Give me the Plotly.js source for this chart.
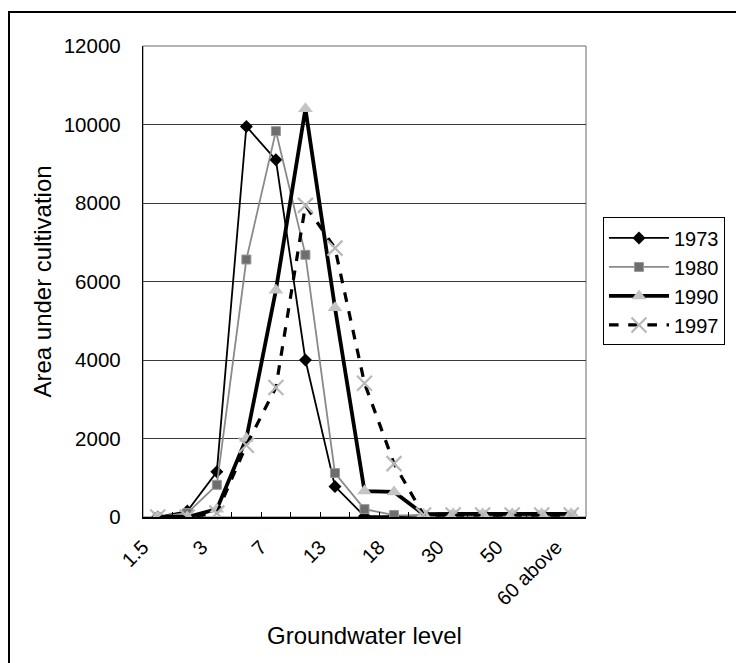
<!DOCTYPE html>
<html>
<head>
<meta charset="utf-8">
<script src="https://cdn.plot.ly/plotly-3.0.1.min.js"></script>
<style>
  html, body { margin: 0; padding: 0; background: #fff; }
  #wrap { position: relative; width: 736px; height: 663px; overflow: hidden; }
  #chart { position: absolute; left: 0; top: 0; width: 736px; height: 663px; }
  #frame { position: absolute; left: 8px; top: 11px; width: 760px; height: 700px;
           border-top: 2px solid #000; border-left: 2px solid #000; pointer-events: none; }
</style>
</head>
<body>
<div id="wrap">
  <div id="chart"></div>
  <div id="frame"></div>
</div>
<script>
// Groundwater level categories (only every other one is labelled in the original)
const categories = ["1.5", "2", "3", "5", "7", "10", "13", "15", "18", "20", "30", "40", "50", "60", "60 above"];
const labelledEvery = 2;

// Area under cultivation by year
const y1973 = [0, 150, 1150, 9950, 9100, 4000, 780, 20, 20, 40, 40, 40, 40, 40, 40];
const y1980 = [0, 100, 820, 6560, 9830, 6680, 1120, 200, 50, 40, 40, 40, 40, 40, 40];
const y1990 = [0, 0, 200, 2000, 5780, 10400, 5330, 660, 640, 70, 80, 80, 80, 80, 80];
const y1997 = [0, 0, 100, 1830, 3300, 7940, 6850, 3410, 1360, 50, 50, 50, 50, 50, 50];

const seriesNames = ["1973", "1980", "1990", "1997"];

const tickText = categories.map((c, i) => (i % labelledEvery === 0 ? c : ""));

const traces = [
  {
    x: categories, y: y1973, name: seriesNames[0], type: "scatter", mode: "lines+markers",
    line: { color: "#000000", width: 1.8 },
    marker: { symbol: "diamond", size: 10, color: "#000000" }
  },
  {
    x: categories, y: y1980, name: seriesNames[1], type: "scatter", mode: "lines+markers",
    line: { color: "#8a8a8a", width: 1.8 },
    marker: { symbol: "square", size: 9, color: "#6e6e6e", line: { color: "#9a9a9a", width: 1 } }
  },
  {
    x: categories, y: y1990, name: seriesNames[2], type: "scatter", mode: "lines+markers",
    line: { color: "#000000", width: 3.8 },
    marker: { symbol: "triangle-up", size: 13, color: "#c4c4c4" }
  },
  {
    x: categories, y: y1997, name: seriesNames[3], type: "scatter", mode: "lines+markers",
    line: { color: "#000000", width: 3.2, dash: "dash" },
    marker: { symbol: "x-thin-open", size: 15, color: "#b8b8b8", line: { color: "#b8b8b8", width: 2.2 } }
  }
];

const font = "Liberation Sans, Arial, sans-serif";

const layout = {
  width: 736, height: 663,
  margin: { l: 143, r: 149, t: 46, b: 146 },
  paper_bgcolor: "#ffffff", plot_bgcolor: "#ffffff",
  font: { family: font, color: "#000", size: 20 },
  showlegend: true,
  legend: {
    x: 1.036, y: 0.636, xanchor: "left", yanchor: "top",
    bordercolor: "#000", borderwidth: 1, bgcolor: "#fff",
    font: { family: font, size: 20, color: "#000" },
    tracegroupgap: 0, itemwidth: 60
  },
  xaxis: {
    type: "category", range: [-0.5, categories.length - 0.5], autorange: false,
    tickmode: "array", tickvals: categories, ticktext: tickText,
    tickson: "boundaries", ticks: "inside", ticklen: 5, tickcolor: "#000", tickwidth: 1,
    tickangle: -45, tickfont: { family: font, size: 20 },
    ticklabelshift: -15, ticklabelstandoff: 9,
    showline: true, linecolor: "#000", linewidth: 1.5, mirror: false,
    showgrid: false, zeroline: false,
    title: { text: "Groundwater level", font: { family: font, size: 24 }, standoff: 18 }
  },
  yaxis: {
    range: [0, 12000], autorange: false, dtick: 2000, tickmode: "linear", tick0: 0, tickformat: "d",
    ticks: "", ticklabelstandoff: 17, tickfont: { family: font, size: 20.5 },
    showline: true, linecolor: "#000", linewidth: 1.2, mirror: false,
    showgrid: true, gridcolor: "#3a3a3a", gridwidth: 1, zeroline: false,
    title: { text: "Area under cultivation", font: { family: font, size: 24 }, standoff: 5 }
  },
  shapes: [
    { type: "rect", xref: "paper", yref: "paper", x0: 0, x1: 1, y0: 0, y1: 1,
      line: { color: "#6a6a6a", width: 1 }, layer: "below" }
  ]
};

Plotly.newPlot("chart", traces, layout, { displayModeBar: false, staticPlot: true });
</script>
</body>
</html>
